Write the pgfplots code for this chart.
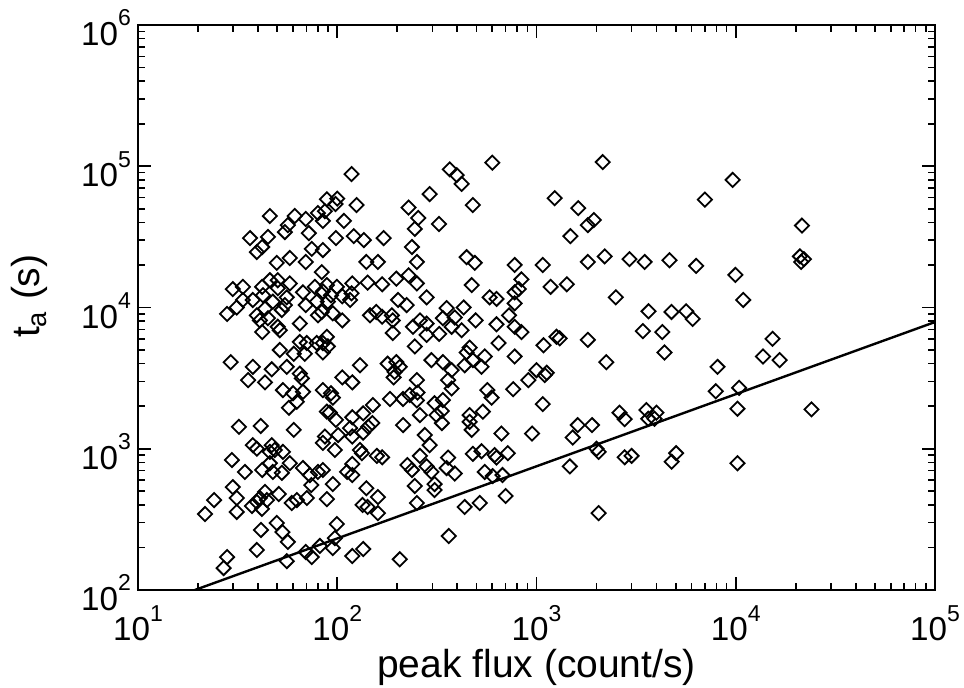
\documentclass[border=0pt]{standalone}
\usepackage{pgfplots}
\pgfplotsset{compat=1.18}
\usepackage{pgfplotstable}
\usepackage{fontspec}
\setmainfont{Liberation Sans}
\newcommand{\ex}[1]{10\raisebox{0.6em}{\fontsize{11.5}{11.5}\selectfont #1}}
\pgfplotstableread{
x y
45.9 44400
36.5 31000
44.9 31600
54.6 34200
56.5 38300
61.2 44400
69.5 42300
80 46600
72 33600
74.5 26000
39.5 24700
42 26800
57.8 22400
49.7 20700
69.5 21000
118 88000
88.7 58400
100 59000
98 54000
86.7 48000
125 53100
84.7 41000
108 41000
98.5 31000
121 32000
136 30000
171 31000
84.7 25500
140 21000
160 21000
228 51000
291 63500
255 43000
245 36000
324 39000
237 26800
251 21000
367 95000
398 86500
421 75000
600 106000
479 53100
1234 59400
446 22700
490 20700
777 20000
1075 20000
29.9 13500
33.6 14000
42 14000
45.9 15600
50.3 15600
57.8 14800
67.3 12800
77.2 14000
33.6 11300
37.7 11300
42.4 12200
47.5 11000
50.3 13700
55.8 11800
54.6 10400
31.3 10000
28.0 9000
43.4 9800
52.7 9600
69.5 10400
78.9 11000
39.5 8800
40.9 8100
44.9 8400
42 6700
50.3 7300
51.5 6900
64.9 7700
80 8800
51.5 5000
60.5 4700
64.9 5700
70.3 5600
68.7 4700
78.9 5600
29.2 4100
37.7 3800
46.9 3650
55.8 3800
64.9 3400
83.6 17800
88.7 14400
99.5 14000
119 14800
142 15000
168 14600
198 16000
228 16900
251 14800
84.7 13000
93 12200
106 12000
116 11300
118 12600
89.7 11000
83.6 9300
95 9100
106 8100
202 11300
223 10400
281 11800
146 8800
157 9300
168 8600
188 8800
190 8100
260 8100
281 7700
240 7300
190 6600
281 6400
325 6500
88.7 6200
84.7 5600
89.7 5300
84.7 4800
245 5300
297 4240
130 3900
179 4000
198 4100
206 3800
194 3500
473 14400
840 15800
1177 14000
582 11800
630 11500
777 12800
815 13500
777 10700
354 9900
431 10000
339 8400
389 8500
375 7300
421 6900
495 8100
630 7600
728 8800
777 7300
840 6700
1260 6200
645 5600
462 5200
446 4800
479 4240
550 4500
777 4500
1085 5400
339 4100
436 3900
530 3800
375 3600
1000 3600
1125 3450
35.7 3060
43.4 2950
66.4 3150
53.4 2600
60 2470
67.3 2530
62.7 2150
57.2 1950
32.1 1430
41.3 1450
60.5 1360
37.7 1060
39.5 1000
46.9 1060
45.9 950
48.6 980
53.4 950
29.6 832
34.4 685
42 707
45.9 790
47.5 685
52.7 675
57.8 790
67.3 730
72.9 651
80 685
119 2950
106 3200
192 3200
251 3060
84.7 2600
93 2470
95 2300
184 2250
214 2250
231 2400
253 2500
251 2200
308 2100
151 2040
88.7 1830
91.8 1800
98.5 1600
119 1670
135 1780
260 1730
315 1730
150 1520
143 1430
214 1470
116 1400
101 1250
119 1220
135 1300
86.7 1220
84.7 1100
97.3 980
275 1250
291 1060
130 980
133 930
158 890
168 870
260 890
225 767
237 707
84.7 707
119 780
112 685
119 651
281 750
297 685
360 3060
375 2670
339 2210
335 1850
335 1520
567 2600
595 2300
764 2640
910 3060
1100 3320
1075 2070
462 1730
538 1830
462 1550
473 1360
667 1280
950 1280
479 920
530 960
617 902
630 865
718 930
360 865
354 730
389 668
550 685
603 640
675 651
29.9 535
31.3 448
31.3 357
24.1 433
21.7 345
37.3 393
39.5 420
40.9 448
43.4 495
41.9 375
44.4 433
50.9 478
59.1 413
62.7 433
70.4 448
74.1 553
41.4 266
49.7 298
53.1 257
56.5 219
39.5 192
55.8 160
28.0 171
26.9 143
69.5 186
74.5 171
81.8 205
95 562
88.7 440
140 525
160 455
134 400
142 387
160 350
245 545
308 562
308 510
251 413
99.5 293
97.3 233
95 198
119 174
135 195
206 165
436 387
519 413
700 463
363 241
2150 107000
1620 50500
1810 38300
1940 41600
1480 32000
1420 14600
1810 21000
2200 23000
2500 11800
2930 22000
3490 21000
4650 21600
6330 19700
1307 6050
1810 5900
2240 4100
1520 1200
1610 1470
1900 1470
2000 1000
2050 950
1470 750
2050 350
3650 9400
3420 6800
4280 6700
4760 9300
4390 4800
3560 1880
3640 1630
3910 1630
4000 1800
4770 810
5020 930
5640 9400
6080 8300
7000 58000
9650 80000
9960 17000
10900 11300
7940 2550
8100 3800
10200 1920
10400 2700
10200 790
13700 4500
15300 6000
16600 4240
21500 38000
21000 23000
22000 22000
21300 21000
24000 1900
2610 1800
2770 1620
2770 870
3000 890
}\pts
\begin{document}
\begin{tikzpicture}
\path[use as bounding box] (-69pt,-49pt) rectangle (413pt,295pt);
\begin{axis}[
  at={(0pt,0pt)}, anchor=south west,
  scale only axis, width=398.5pt, height=282.5pt,
  xmode=log, ymode=log,
  xmin=10, xmax=100000, ymin=100, ymax=1000000,
  xtick={10,100,1000,10000,100000},
  xticklabels={\ex{1},\ex{2},\ex{3},\ex{4},\ex{5}},
  ytick={100,1000,10000,100000,1000000},
  yticklabels={\ex{2},\ex{3},\ex{4},\ex{5},\ex{6}},
  tick label style={font=\fontsize{16.6}{18}\selectfont},
  xticklabel style={anchor=base, yshift=-25.5pt},
  yticklabel style={yshift=-1.5pt},
  tick align=inside, tick pos=both,
  major tick length=6.5pt, minor tick length=3.5pt,
  every tick/.style={black, line width=0.8pt},
  axis line style={line width=1pt},
  xlabel={peak flux (count/s)},
  ylabel={t\textsubscript{a} (s)},
  every axis x label/.style={at={([yshift=-44pt]axis description cs:0.5,0)}, anchor=base, font=\fontsize{19.5}{22}\selectfont},
  every axis y label/.style={at={([xshift=-49pt]axis description cs:0,0.52)}, rotate=90, anchor=base, font=\fontsize{19.5}{22}\selectfont},
]
\addplot[only marks, mark=square, mark size=2.5pt, mark options={rotate=45, line width=0.9pt, black}] table[x=x, y=y] {\pts};
\addplot[black, line width=1.2pt] coordinates {(19.3,100) (100000,7890)};
\end{axis}
\end{tikzpicture}
\end{document}
